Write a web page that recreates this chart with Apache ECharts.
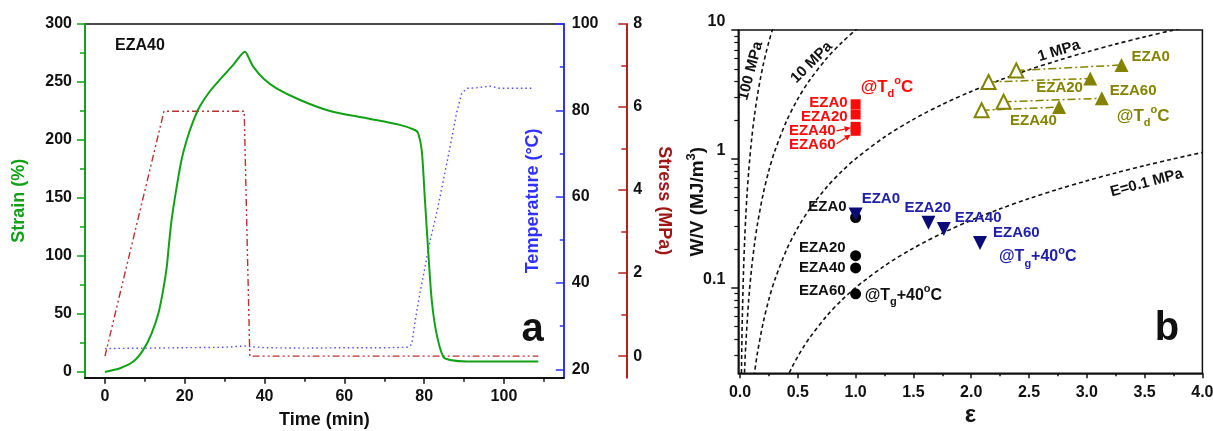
<!DOCTYPE html>
<html>
<head>
<meta charset="utf-8">
<script src="https://cdn.jsdelivr.net/npm/echarts@6/dist/echarts.min.js"></script>
<style>
html,body{margin:0;padding:0;background:#fff;}
#c{width:1213px;height:431px;}
</style>
</head>
<body>
<div id="c"></div>
<script>
// ---------- Panel a: shape-memory cycle of EZA40 ----------
const strainTime = [0,3.8,7.1,9.6,11.7,13.4,14.6,15.5,15.9,16.7,18,19.2,20.5,22.1,23.8,26.3,28.8,32.2,35.1,36.3,37.2,39.7,43,48.9,56.4,65.6,73.9,77.7,78.5,79.4,80.2,81,81.9,83.1,84.8,86.5,90.8,108.6];
const strainPct  = [0,3.2,8.9,19,33.3,50.6,70.7,90.8,105,131,160,183,200,216,229,242,252,265,276,269,263,253,244.5,234.5,225,218.7,213,208.6,205.8,191,148,105,62,33,13,10.3,9,9];
const tempTime = [0,10,20,30,35,40,50,60,70,76,76.9,77.7,78.9,80.2,81.5,83.1,84.8,86.5,88.1,89.4,90.7,93,96.5,99,103,107.3];
const tempC    = [24.8,24.9,25,25.1,25.4,25,24.9,25,25,25.1,25.8,31,37.4,43.6,49.8,56,63.7,71.5,79.3,83.9,85.1,85.2,85.6,85.1,85.1,85.1];
const stressTime = [0,14.8,34.9,36.3,108.6];
const stressMPa  = [0,5.9,5.9,0,0];

const timeTicks   = [0,20,40,60,80,100];
const timeMinor   = [10,30,50,70,90,110];
const strainTicks = [0,50,100,150,200,250,300];
const strainMinor = [25,75,125,175,225,275];
const tempTicks   = [20,40,60,80,100];
const tempMinor   = [30,50,70,90];
const stressTicks = [0,2,4,6,8];
const stressMinor = [1,3,5,7];

// ---------- Panel b: stored energy density vs strain ----------
const samples = ['EZA0','EZA20','EZA40','EZA60'];
// @Td (squares)
const tdStrain = [1,1,1,1];
const tdEnergy = [2.65,2.21,1.77,1.65];
// @Tg+40 (circles)
const tgStrain = [1,1,1,1];
const tgEnergy = [0.35,0.177,0.142,0.0895];
// @Tg+40 (down triangles)
const tgTriStrain = [1.0,1.63,1.763,2.076];
const tgTriEnergy = [0.37,0.318,0.285,0.222];
// @Td recovery pairs (open -> filled triangles)
const openStrain   = [2.39,2.15,2.09,2.28];
const openEnergy   = [4.85,3.95,2.38,2.77];
const filledStrain = [3.30,3.03,2.76,3.13];
const filledEnergy = [5.35,4.2,2.52,2.95];

// iso-modulus guide curves
const guide01Strain = [0.4,0.45,0.5,0.55,0.6,0.75,0.875,1,1.25,1.5,1.75,2,2.25,2.5,2.75,3,3.25,3.5,3.75,4];
const guide01Energy = [0.01943,0.02409,0.02917,0.03464,0.0405,0.06027,0.07911,0.1,0.14757,0.2025,0.26449,0.33333,0.40889,0.49107,0.57979,0.675,0.77665,0.88472,0.99918,1.12];
const guide1Strain = [0.1,0.12,0.15,0.2,0.25,0.3,0.4,0.5,0.6,0.75,0.875,1,1.25,1.5,1.75,2,2.25,2.5,2.75,3,3.25,3.5,3.75,4];
const guide1Energy = [0.01409,0.02006,0.03082,0.05333,0.08125,0.11423,0.19429,0.29167,0.405,0.60268,0.79115,1,1.47569,2.025,2.64489,3.33333,4.08894,4.91071,5.79792,6.75,7.76654,8.84722,9.99178,11.2];
const guide10Strain = [0.03,0.04,0.05,0.075,0.1,0.125,0.15,0.2,0.25,0.3,0.4,0.5,0.6,0.75,0.875,1,1.05];
const guide10Energy = [0.01324,0.02339,0.03631,0.08045,0.14091,0.21702,0.30815,0.53333,0.8125,1.14231,1.94286,2.91667,4.05,6.02679,7.91146,10,10.89];
const guide100Strain = [0.01,0.015,0.02,0.03,0.04,0.05,0.06,0.075,0.1,0.125,0.15,0.175,0.2,0.225,0.25,0.275,0.3];
const guide100Energy = [0.0149,0.0334,0.0592,0.1324,0.2339,0.3631,0.5196,0.8045,1.4091,2.170,3.0815,4.1376,5.3333,6.6639,8.125,9.7126,11.423];

const epsTicks = [0,0.5,1,1.5,2,2.5,3,3.5,4];
const epsMinor = [0.25,0.75,1.25,1.75,2.25,2.75,3.25,3.75];
const energyTicks = [0.1,1,10];
const energyMinor = [0.03,0.04,0.05,0.06,0.07,0.08,0.09,0.2,0.3,0.4,0.5,0.6,0.7,0.8,0.9,2,3,4,5,6,7,8,9];

// ---------- styling ----------
const FONT = '"Liberation Sans", Arial, Helvetica, sans-serif';
const GREEN = '#12a016', BLUE = '#3030ff', DRED = '#b3201f';
const RED = '#ff0a0a', NAVY = '#0b0b78', BLUET = '#2020a8', OLIVE = '#838300', INK = '#111';

const pairs = (xs, ys) => xs.map((x, i) => [x, ys[i]]);
const tickFont = {fontFamily: FONT, fontSize: 16, fontWeight: 'bold', color: INK};
const titleFont = (color) => ({fontFamily: FONT, fontSize: 18, fontWeight: 'bold', color});

function valueAxis(base, ticks, len, color, inside, labels) {
  return Object.assign({
    type: 'value',
    nameMoveOverlap: false,
    axisLine: {onZero: false, lineStyle: {color, width: 2}},
    axisTick: {customValues: ticks, length: len, inside: !!inside, lineStyle: {color, width: 1.5}},
    axisLabel: labels ? Object.assign({customValues: ticks}, tickFont, labels) : {show: false},
    splitLine: {show: false}
  }, base);
}
function minorOf(major, ticks, len) {
  const m = JSON.parse(JSON.stringify(major));
  delete m.name; delete m.nameTextStyle;
  m.axisLine = {show: false, onZero: false};
  m.axisLabel = {show: false};
  m.axisTick.customValues = ticks;
  m.axisTick.length = len;
  return m;
}

const xTime = valueAxis({gridIndex: 0, position: 'bottom', min: -5, max: 115,
  name: 'Time (min)', nameLocation: 'middle', nameGap: 33, nameTextStyle: titleFont(INK)},
  timeTicks, 6, INK, false, {margin: 11});
const xEps = valueAxis({gridIndex: 1, position: 'bottom', min: -0.015, max: 4,
  name: 'ε', nameLocation: 'middle', nameGap: 30,
  nameTextStyle: {fontFamily: FONT, fontSize: 24, fontWeight: 'bold', color: INK}},
  epsTicks, 5, INK, false, {margin: 11, formatter: v => v.toFixed(1)});
xEps.axisLine.lineStyle.width = 1.5;

const yStrain = valueAxis({gridIndex: 0, position: 'left', min: -5, max: 300,
  name: 'Strain (%)', nameLocation: 'middle', nameGap: 57, nameTextStyle: titleFont(GREEN)},
  strainTicks, 8, GREEN, false, {margin: 13});
const yTemp = valueAxis({gridIndex: 0, position: 'right', min: 18.05, max: 100,
  name: 'Temperature (°C)', nameLocation: 'middle', nameGap: -40, nameTextStyle: titleFont(BLUE)},
  tempTicks, 8, BLUE, true, {margin: 8});
const yStress = valueAxis({gridIndex: 0, position: 'right', offset: 62.5, min: -0.52, max: 8,
  name: 'Stress (MPa)', nameLocation: 'middle', nameGap: 29, nameRotate: -90, nameTextStyle: titleFont('#9e1616')},
  stressTicks, 8, DRED, true, {margin: 7});

const yEnergy = {
  type: 'log', logBase: 10, gridIndex: 1, position: 'left', min: 0.0216, max: 10,
  nameMoveOverlap: false,
  axisLine: {onZero: false, lineStyle: {color: INK, width: 1.5}},
  axisTick: {customValues: energyTicks, length: 7, lineStyle: {color: INK, width: 1.5}},
  axisLabel: Object.assign({customValues: energyTicks, margin: 13, verticalAlign: 'bottom',
    formatter: v => String(+v.toPrecision(3))}, tickFont),
  splitLine: {show: false},
  name: 'W/V (MJ/m{s|3})', nameLocation: 'middle', nameGap: 29,
  nameTextStyle: Object.assign(titleFont(INK), {fontSize: 19, lineHeight: 24,
    rich: {s: {fontFamily: FONT, fontSize: 13, fontWeight: 'bold', color: INK, verticalAlign: 'top', lineHeight: 13}}})
};
const yEnergyMinor = {
  type: 'log', logBase: 10, gridIndex: 1, position: 'left', min: 0.0216, max: 10,
  axisLine: {show: false, onZero: false},
  axisTick: {customValues: energyMinor, length: 4, lineStyle: {color: INK, width: 1.2}},
  axisLabel: {show: false}, splitLine: {show: false}
};

const guideStyle = {color: INK, width: 1.6, type: [4, 3]};
const guide = (xs, ys) => ({type: 'line', xAxisIndex: 2, yAxisIndex: 6, data: pairs(xs, ys),
  showSymbol: false, smooth: 0.3, lineStyle: guideStyle, silent: true, clip: true, z: 2});

const recoveryPair = (i) => ({
  type: 'line', xAxisIndex: 2, yAxisIndex: 6, z: 4,
  data: [
    {value: [openStrain[i], openEnergy[i]], symbol: 'emptyTriangle'},
    {value: [filledStrain[i], filledEnergy[i]], symbol: 'triangle'}
  ],
  symbolSize: 14, itemStyle: {color: OLIVE, opacity: 1},
  lineStyle: {color: OLIVE, width: 1.5, type: [8, 3, 2, 3]}
});

const option = {
  animation: false,
  backgroundColor: '#fff',
  grid: [
    {left: 85, top: 24, width: 478.8, height: 353.7, show: true, borderColor: INK, borderWidth: 1.5, outerBoundsMode: 'none', containLabel: false},
    {left: 738.3, top: 30, width: 464.1, height: 343.3, show: true, borderColor: INK, borderWidth: 1.5, outerBoundsMode: 'none', containLabel: false}
  ],
  xAxis: [xTime, minorOf(xTime, timeMinor, 4), xEps, minorOf(xEps, epsMinor, 3)],
  yAxis: [yStrain, minorOf(yStrain, strainMinor, 5), yTemp, minorOf(yTemp, tempMinor, 4),
          yStress, minorOf(yStress, stressMinor, 5), yEnergy, yEnergyMinor],
  series: [
    {type: 'line', xAxisIndex: 0, yAxisIndex: 2, data: pairs(tempTime, tempC), showSymbol: false,
     lineStyle: {color: '#4a4aff', width: 1.4, type: [1.5, 3]}, z: 2},
    {type: 'line', xAxisIndex: 0, yAxisIndex: 4, data: pairs(stressTime, stressMPa), showSymbol: false,
     lineStyle: {color: '#bb3030', width: 1.4, type: [7, 3, 2, 3, 2, 3]}, z: 2},
    {type: 'line', xAxisIndex: 0, yAxisIndex: 0, data: pairs(strainTime, strainPct), showSymbol: false,
     smooth: 0.25, lineStyle: {color: GREEN, width: 2}, z: 3},
    guide(guide01Strain, guide01Energy),
    guide(guide1Strain, guide1Energy),
    guide(guide10Strain, guide10Energy),
    guide(guide100Strain, guide100Energy),
    recoveryPair(0), recoveryPair(1), recoveryPair(2), recoveryPair(3),
    {type: 'scatter', xAxisIndex: 2, yAxisIndex: 6, data: pairs(tgStrain, tgEnergy),
     symbol: 'circle', symbolSize: 11, itemStyle: {color: '#000', opacity: 1}, z: 4},
    {type: 'scatter', xAxisIndex: 2, yAxisIndex: 6, data: pairs(tgTriStrain, tgTriEnergy),
     symbol: 'triangle', symbolRotate: 180, symbolSize: 14, itemStyle: {color: NAVY, opacity: 1}, z: 5},
    {type: 'scatter', xAxisIndex: 2, yAxisIndex: 6, data: pairs(tdStrain, tdEnergy),
     symbol: 'rect', symbolSize: 10, itemStyle: {color: RED, opacity: 1}, z: 5}
  ]
};

const chart = echarts.init(document.getElementById('c'), null, {renderer: 'canvas'});
chart.setOption(option);

// ---------- annotations ----------
const SI = {open: 7, circles: 11, tris: 12, squares: 13};
const at = (si, x, y) => chart.convertToPixel({seriesIndex: si}, [x, y]);
const atB = (x, y) => chart.convertToPixel({xAxisIndex: 2, yAxisIndex: 6}, [x, y]);
const rich = {
  sub: {fontFamily: FONT, fontSize: 11, fontWeight: 'bold', verticalAlign: 'bottom', lineHeight: 10},
  sup: {fontFamily: FONT, fontSize: 11, fontWeight: 'bold', verticalAlign: 'top', lineHeight: 10}
};
const graphics = [];
function text(p, dx, dy, str, color, align, size, rot) {
  graphics.push({
    type: 'text', x: p[0] + dx, y: p[1] + dy, rotation: (rot || 0) * Math.PI / 180, z: 50,
    style: {text: str, fill: color, fontFamily: FONT, fontSize: size || 15, fontWeight: 'bold',
      align: align || 'left', textAlign: align || 'left', verticalAlign: 'middle', textVerticalAlign: 'middle',
      lineHeight: 24, rich: rich}
  });
}
function arrow(p, x0, y0, x1, y1, color) {
  const a = [p[0] + x0, p[1] + y0], b = [p[0] + x1, p[1] + y1];
  const ang = Math.atan2(b[1] - a[1], b[0] - a[0]);
  const L = 6, W = 3;
  const bx = b[0] - L * Math.cos(ang), by = b[1] - L * Math.sin(ang);
  graphics.push({type: 'line', z: 50, shape: {x1: a[0], y1: a[1], x2: bx, y2: by}, style: {stroke: color, lineWidth: 1.3}});
  graphics.push({type: 'polygon', z: 50, shape: {points: [b,
    [bx + W * Math.sin(ang), by - W * Math.cos(ang)],
    [bx - W * Math.sin(ang), by + W * Math.cos(ang)]]}, style: {fill: color}});
}

// squares at Td
const sq = samples.map((s, i) => at(SI.squares, tdStrain[i], tdEnergy[i]));
text(sq[0], -8, -1, 'EZA0', RED, 'right');
text(sq[1], -8, 2, 'EZA20', RED, 'right');
text(sq[2], -20, 4, 'EZA40', RED, 'right');
text(sq[3], -20, 14, 'EZA60', RED, 'right');
text(sq[0], 5, -17, '@T{sub|d}{sup|o}C', RED, 'left', 17);
arrow(sq[2], -19, 4, -5, 1, RED);
arrow(sq[3], -19, 13, -5, 4, RED);

// circles at Tg+40
const ci = samples.map((s, i) => at(SI.circles, tgStrain[i], tgEnergy[i]));
text(ci[0], -9, -11, 'EZA0', INK, 'right');
text(ci[1], -10, -8, 'EZA20', INK, 'right');
text(ci[2], -10, 0, 'EZA40', INK, 'right');
text(ci[3], -10, -3, 'EZA60', INK, 'right');
text(ci[3], 9, 2, '@T{sub|g}+40{sup|o}C', INK, 'left', 16);

// triangles at Tg+40
const tr = samples.map((s, i) => at(SI.tris, tgTriStrain[i], tgTriEnergy[i]));
text(tr[0], 6, -16, 'EZA0', BLUET, 'left');
text(tr[1], -24, -15, 'EZA20', BLUET, 'left');
text(tr[2], 11, -11, 'EZA40', BLUET, 'left');
text(tr[3], 13, -10, 'EZA60', BLUET, 'left');
text(tr[3], 19, 14, '@T{sub|g}+40{sup|o}C', BLUET, 'left', 16);

// recovery pairs at Td
const fi = samples.map((s, i) => at(SI.open + i, filledStrain[i], filledEnergy[i]));
text(fi[0], 10, -8, 'EZA0', OLIVE, 'left');
text(fi[1], -54, 9, 'EZA20', OLIVE, 'left');
text(fi[2], -49, 14, 'EZA40', OLIVE, 'left');
text(fi[3], 8, -7, 'EZA60', OLIVE, 'left');
text(fi[3], 15, 18, '@T{sub|d}{sup|o}C', OLIVE, 'left', 17);

// guide-curve captions
const captions = [
  {t: '100 MPa', at: [0.0926, 4.81], rot: 75},
  {t: '10 MPa', at: [0.62, 5.59], rot: 45},
  {t: '1 MPa', at: [2.76, 6.88], rot: 17},
  {t: 'E=0.1 MPa', at: [3.518, 0.65], rot: 15}
];
captions.forEach(c => text(atB(c.at[0], c.at[1]), 0, 0, c.t, INK, 'center', 15, c.rot));

// panel tags
text([115, 46], 0, 0, 'EZA40', INK, 'left', 16);
text([532.7, 330], 0, 0, 'a', INK, 'center', 40);
text([1167, 329], 0, 0, 'b', INK, 'center', 40);

chart.setOption({graphic: graphics});
</script>
</body>
</html>
